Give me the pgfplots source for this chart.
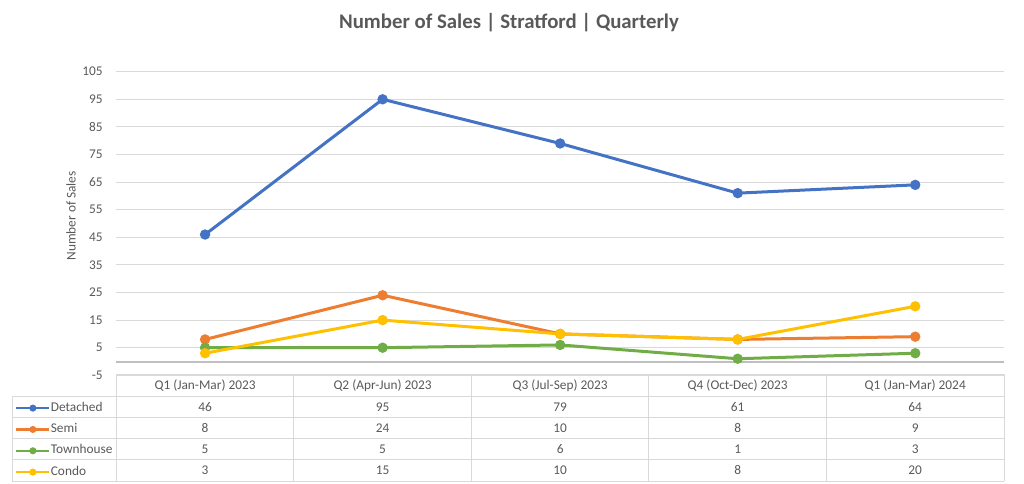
\documentclass[border=0pt]{standalone}
\usepackage{fontspec}
\setmainfont{Carlito}
\usepackage{pgfplots}
\usepackage{pgfplotstable}
\pgfplotsset{compat=1.18}

\definecolor{cDet}{HTML}{4472C4}
\definecolor{cSemi}{HTML}{ED7D31}
\definecolor{cTown}{HTML}{70AD47}
\definecolor{cCondo}{HTML}{FFC000}
\definecolor{txt}{HTML}{595959}
\definecolor{gridc}{HTML}{D9D9D9}
\definecolor{zeroc}{HTML}{BFBFBF}

% quarterly sales, Stratford
\pgfplotstableread{
q det semi town condo
1 46 8  5 3
2 95 24 5 15
3 79 10 6 10
4 61 8  1 8
5 64 9  3 20
}\sales

\newcommand{\tfont}{\fontsize{10}{12}\selectfont}

\begin{document}
\begin{tikzpicture}
\path[use as bounding box] (0,0) rectangle (768pt,362.25pt);

\begin{axis}[
  at={(87.225pt,80.775pt)}, anchor=south west,
  scale only axis, width=665.8pt, height=227.7pt,
  xmin=0.5, xmax=5.5, ymin=-5, ymax=105,
  xtick=\empty, ytick={-5,5,...,105},
  ymajorgrids, grid style={gridc, line width=0.75pt},
  axis line style={draw=none}, major tick length=0pt,
  tick label style={font=\tfont, text=txt},
  yticklabel style={xshift=-6.75pt},
  /pgf/number format/assume math mode=true,
  clip=false,
  legend image code/.code={\draw[mark repeat=2,mark phase=2,#1,line width=1.6pt,mark size=1.8pt]
    plot coordinates {(0pt,0pt)(12.4pt,0pt)(24.8pt,0pt)};},
  legend style={at={(-0.1141,-0.087)}, anchor=north west, draw=none, fill=none,
    font=\tfont, text=txt, inner sep=0pt,
    nodes={inner sep=0pt, text height=7pt, text depth=2.2pt},
    row sep=6.8pt, column sep=0.3pt},
  legend cell align=left,
  every axis plot/.append style={line width=2.25pt, mark=*, mark size=2.7pt},
]
\draw[zeroc, line width=1.5pt] (axis cs:0.5,0) -- (axis cs:5.5,0);
\addplot[cDet, mark options={fill=cDet}] table[x=q, y=det] {\sales};
\addplot[cSemi, mark options={fill=cSemi}] table[x=q, y=semi] {\sales};
\addplot[cTown, mark options={fill=cTown}] table[x=q, y=town] {\sales};
\addplot[cCondo, mark options={fill=cCondo}] table[x=q, y=condo] {\sales};
\legend{Detached, Semi, Townhouse, Condo}
\end{axis}

% pixel grid: x to the right, y downwards from the top edge
\begin{scope}[yshift=362.25pt, x=0.75pt, y=-0.75pt]
  \node[font=\fontsize{15.6}{18}\selectfont\bfseries, text=txt] at (509,23) {Number of Sales | Stratford | Quarterly};
  \node[font=\tfont, text=txt, rotate=90] at (71,216) {Number of Sales};

  % data table
  \draw[gridc, line width=0.75pt] (116.3,374.3) -- (1004,374.3);
  \foreach \yy in {396,417.3,438.6,459.9,481.2}
    \draw[gridc, line width=0.75pt] (12.3,\yy) -- (1004,\yy);
  \draw[gridc, line width=0.75pt] (12.3,396) -- (12.3,481.2);
  \foreach \k in {0,...,5}
    \draw[gridc, line width=0.75pt] ({116.3+177.54*\k},374.3) -- ({116.3+177.54*\k},481.2);

  \foreach \lab [count=\k from 0] in {Q1 (Jan-Mar) 2023, Q2 (Apr-Jun) 2023, Q3 (Jul-Sep) 2023, Q4 (Oct-Dec) 2023, Q1 (Jan-Mar) 2024}
    \node[anchor=base, inner sep=0pt, font=\tfont, text=txt] at ({116.3+177.54*(\k+0.5)},389.5) {\lab};

  \foreach \a/\b/\c/\d/\e [count=\r from 0] in {46/95/79/61/64, 8/24/10/8/9, 5/5/6/1/3, 3/15/10/8/20}{
    \foreach \v [count=\k from 0] in {\a,\b,\c,\d,\e}
      \node[anchor=base, inner sep=0pt, font=\tfont, text=txt] at ({116.3+177.54*(\k+0.5)},{411+21.3*\r}) {\v};
  }
\end{scope}
\end{tikzpicture}
\end{document}
